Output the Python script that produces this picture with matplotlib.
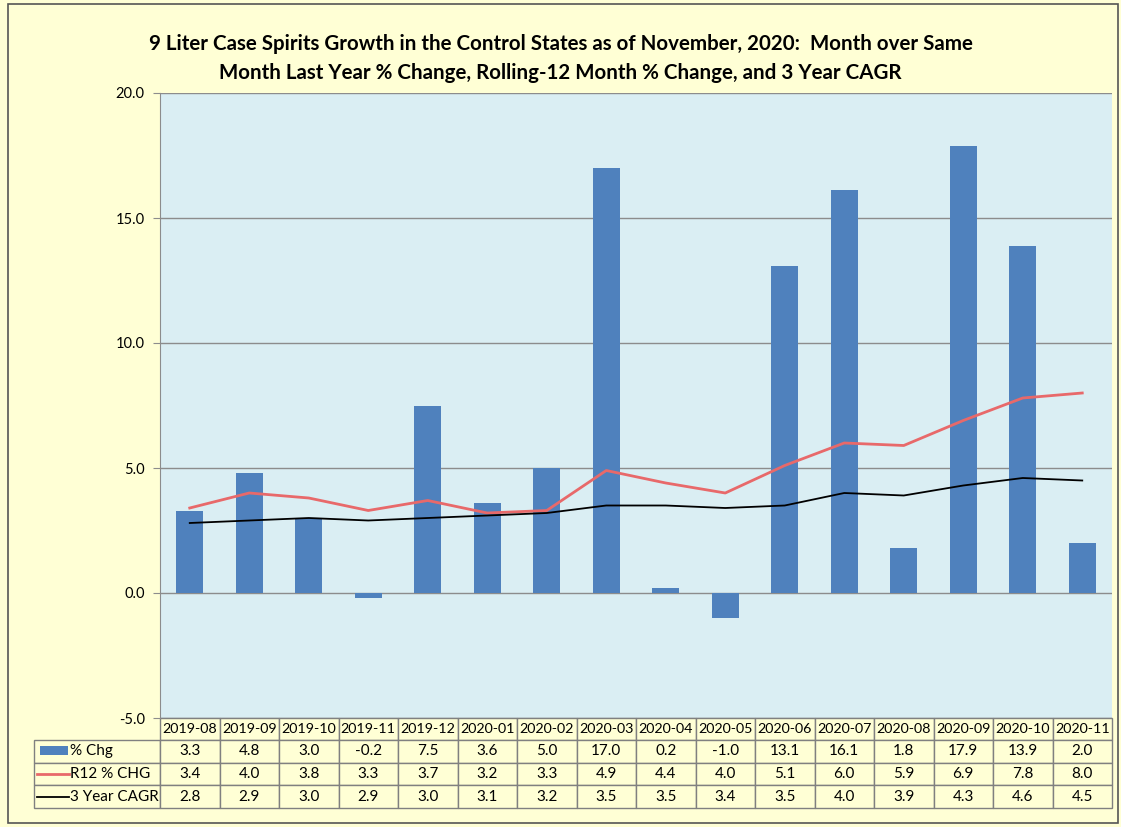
import matplotlib.pyplot as plt
from matplotlib.patches import Rectangle
from matplotlib.transforms import blended_transform_factory
from matplotlib.lines import Line2D

months = ["2019-08", "2019-09", "2019-10", "2019-11", "2019-12", "2020-01", "2020-02", "2020-03",
          "2020-04", "2020-05", "2020-06", "2020-07", "2020-08", "2020-09", "2020-10", "2020-11"]
pct_chg = [3.3, 4.8, 3.0, -0.2, 7.5, 3.6, 5.0, 17.0, 0.2, -1.0, 13.1, 16.1, 1.8, 17.9, 13.9, 2.0]
r12_chg = [3.4, 4.0, 3.8, 3.3, 3.7, 3.2, 3.3, 4.9, 4.4, 4.0, 5.1, 6.0, 5.9, 6.9, 7.8, 8.0]
cagr_3y = [2.8, 2.9, 3.0, 2.9, 3.0, 3.1, 3.2, 3.5, 3.5, 3.4, 3.5, 4.0, 3.9, 4.3, 4.6, 4.5]
series_names = ["% Chg", "R12 % CHG", "3 Year CAGR"]

BG = "#FFFFD5"
PLOT_BG = "#DAEEF3"
BLUE = "#4F81BD"
RED = "#E8696A"
GRID = "#8C8C8C"
plt.rcParams['font.family'] = ['Lato', 'DejaVu Sans']

fig = plt.figure(figsize=(11.21, 8.27), dpi=100, facecolor=BG)
fig.patches.append(Rectangle((8 / 1121, 4 / 827), 1110 / 1121, 819 / 827, transform=fig.transFigure,
                             fill=False, edgecolor="#555555", linewidth=1.2))

ax = fig.add_axes([160 / 1121, 1 - 718 / 827, 952 / 1121, 625 / 827])
ax.set_facecolor(PLOT_BG)
x = list(range(len(months)))
ax.bar(x, pct_chg, width=0.45, color=BLUE, zorder=3)
ax.plot(x, r12_chg, color=RED, linewidth=2, zorder=4)
ax.plot(x, cagr_3y, color="black", linewidth=1.3, zorder=4)

ax.set_xlim(-0.5, len(months) - 0.5)
ax.set_ylim(-5, 20)
ax.set_yticks([-5, 0, 5, 10, 15, 20])
ax.set_yticklabels([f"{v:.1f}" for v in [-5, 0, 5, 10, 15, 20]], fontsize=10.5)
ax.yaxis.grid(True, color=GRID, linewidth=1, zorder=1)
ax.set_xticks([])
for s in ["top", "right", "bottom"]:
    ax.spines[s].set_visible(False)
ax.spines["left"].set_color(GRID)
ax.tick_params(axis="y", color=GRID, length=5, pad=6)

# data table under the plot
tr = blended_transform_factory(ax.transData, ax.transAxes)
h_head = 22 / 625
h_row = 22.7 / 625
edge = "#808080"
fs = 11
for i, m in enumerate(months):
    ax.add_patch(Rectangle((i - 0.5, -h_head), 1, h_head, transform=tr, facecolor=BG,
                           edgecolor=edge, linewidth=1, clip_on=False))
    ax.text(i, -h_head / 2, m, transform=tr, ha="center", va="center", fontsize=10.3, clip_on=False)
rows = [pct_chg, r12_chg, cagr_3y]
lab_x0 = -(160 - 34) / 952
for r, vals in enumerate(rows):
    y0 = -h_head - (r + 1) * h_row
    ax.add_patch(Rectangle((lab_x0, y0), -lab_x0, h_row, transform=ax.transAxes, facecolor=BG,
                           edgecolor=edge, linewidth=1, clip_on=False))
    ax.text(lab_x0 + 36 / 952, y0 + h_row / 2, series_names[r], transform=ax.transAxes,
            ha="left", va="center", fontsize=fs, clip_on=False)
    for i, v in enumerate(vals):
        ax.add_patch(Rectangle((i - 0.5, y0), 1, h_row, transform=tr, facecolor=BG,
                               edgecolor=edge, linewidth=1, clip_on=False))
        ax.text(i, y0 + h_row / 2, f"{v:.1f}", transform=tr, ha="center", va="center",
                fontsize=fs, clip_on=False)

# legend keys in the label column
yc = [-h_head - (r + 0.5) * h_row for r in range(3)]
ax.add_patch(Rectangle((lab_x0 + 6 / 952, yc[0] - 4 / 625), 28 / 952, 9 / 625, transform=ax.transAxes,
                       facecolor=BLUE, edgecolor="none", clip_on=False))
ax.add_line(Line2D([lab_x0 + 3 / 952, lab_x0 + 35 / 952], [yc[1], yc[1]], transform=ax.transAxes,
                   color=RED, linewidth=2, clip_on=False))
ax.add_line(Line2D([lab_x0 + 3 / 952, lab_x0 + 35 / 952], [yc[2], yc[2]], transform=ax.transAxes,
                   color="black", linewidth=1.3, clip_on=False))

fig.text(0.5, 1 - 44 / 827, "9 Liter Case Spirits Growth in the Control States as of November, 2020:  Month over Same",
         ha="center", va="center", fontsize=14.8, fontweight="bold")
fig.text(0.5, 1 - 73 / 827, "Month Last Year % Change, Rolling-12 Month % Change, and 3 Year CAGR",
         ha="center", va="center", fontsize=14.8, fontweight="bold")

fig.savefig("out.png", dpi=100, facecolor=BG)
